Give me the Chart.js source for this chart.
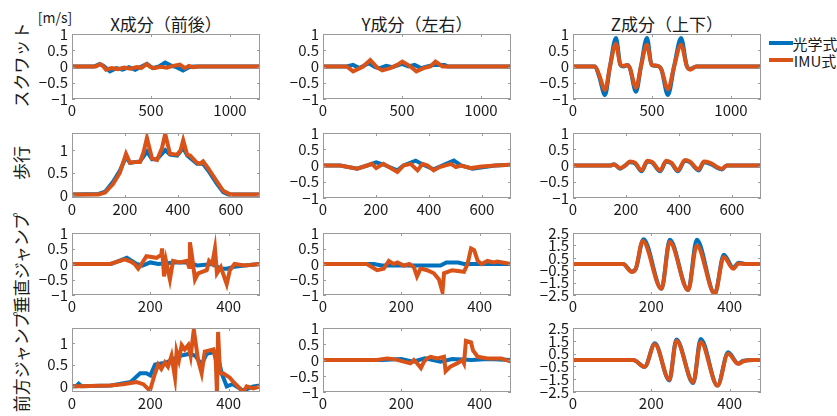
<!DOCTYPE html>
<html>
<head>
<meta charset="utf-8">
<script src="https://cdn.jsdelivr.net/npm/chart.js@4.4.0/dist/chart.umd.min.js"></script>
<style>
  body { margin: 0; background: #fff; width: 837px; height: 416px; overflow: hidden; position: relative;
         font-family: "Noto Sans CJK JP", sans-serif; color: #1a1a1a; }
  canvas { position: absolute; }
  .t { position: absolute; white-space: nowrap; transform: translate(-50%, -50%); line-height: 1; }
  .title { font-size: 17px; }
  .row { font-size: 17px; transform: translate(-50%, -50%) rotate(-90deg); }
  .leg { position: absolute; height: 4px; width: 24px; }
</style>
</head>
<body>
<div class="t" style="left:55px;top:17px;font-size:14px">[m/s]</div>
<div class="t title" style="left:166px;top:23px">X成分（前後）</div>
<div class="t title" style="left:417px;top:23px">Y成分（左右）</div>
<div class="t title" style="left:667px;top:23px">Z成分（上下）</div>
<div class="t row" style="left:20px;top:65px">スクワット</div>
<div class="t row" style="left:20px;top:163px">歩行</div>
<div class="t row" style="left:20px;top:263px">垂直ジャンプ</div>
<div class="t row" style="left:20px;top:362px">前方ジャンプ</div>
<div class="leg" style="left:769px;top:41px;background:#0072BD"></div>
<div class="t" style="left:815px;top:43px;font-size:15px">光学式</div>
<div class="leg" style="left:769px;top:58px;background:#D95319"></div>
<div class="t" style="left:815px;top:60px;font-size:15px">IMU式</div>

<script>
// [t, value] pairs, optical (blue) and IMU (orange)
const squatX_opt = [[0,0],[140,0],[175,0.08],[200,0.02],[240,-0.15],[280,-0.05],[320,-0.1],[360,-0.02],[400,-0.1],[440,0],[474,0.08],[510,-0.05],[550,0],[590,0.12],[630,0.02],[660,-0.02],[703,-0.12],[740,-0.02],[770,0],[1190,0]];
const squatX_imu = [[0,0],[150,0],[178,0.07],[195,0.02],[215,-0.1],[250,-0.05],[290,-0.08],[330,-0.03],[370,-0.07],[410,-0.02],[440,-0.04],[472,0.07],[500,-0.02],[520,-0.05],[560,-0.01],[600,-0.04],[640,0.02],[683,0.06],[715,-0.05],[740,0.02],[766,-0.02],[800,0],[1190,0]];
const squatY_opt = [[0,0],[150,0],[190,0.05],[230,-0.05],[290,0.1],[330,-0.02],[360,-0.05],[400,0.02],[440,-0.02],[500,0.08],[540,0],[580,0.05],[620,-0.05],[660,0],[700,0.05],[770,0.05],[790,0],[1190,0]];
const squatY_imu = [[0,0],[150,0],[191,-0.15],[254,0],[299,0.2],[340,-0.02],[375,-0.12],[426,-0.05],[470,0.05],[502,0.15],[553,0],[591,-0.15],[636,-0.05],[680,0],[712,0.15],[757,0],[1190,0]];
const squatZ_opt = [[0,0],[139,0],[165,-0.3],[203,-0.88],[234,0],[272,0.88],[300,0.05],[320,0],[345,0.05],[360,-0.05],[399,-0.78],[430,0],[468,0.88],[498,0.05],[520,0.02],[545,0],[560,-0.1],[601,-0.88],[640,0],[684,0.88],[720,0.02],[741,-0.08],[780,0],[1190,0]];
const squatZ_imu = [[0,0],[139,0],[165,-0.25],[203,-0.72],[234,0],[272,0.7],[300,0.05],[320,0.02],[345,0.05],[360,-0.05],[399,-0.65],[430,0],[468,0.67],[498,0.05],[520,0.03],[545,0],[560,-0.1],[601,-0.7],[640,0],[684,0.67],[720,0.02],[741,-0.1],[780,0],[1190,0]];

const walkX_opt = [[0,0.02],[100,0.03],[125,0.08],[155,0.3],[181,0.55],[204,0.85],[219,0.72],[257,0.75],[283,0.97],[302,0.8],[321,0.8],[352,1.0],[370,0.9],[397,0.88],[420,1.05],[435,0.88],[472,0.7],[495,0.7],[514,0.55],[548,0.25],[571,0.07],[590,0.02],[710,0.02]];
const walkX_imu = [[0,0.02],[100,0.02],[125,0.06],[155,0.25],[181,0.5],[204,0.92],[219,0.72],[240,0.74],[257,0.74],[270,0.95],[283,1.27],[302,0.82],[321,0.78],[340,1.05],[352,1.36],[370,0.92],[397,0.9],[410,1.0],[420,1.22],[435,0.9],[446,0.88],[472,0.72],[484,0.7],[495,0.75],[514,0.6],[548,0.3],[571,0.1],[597,0.02],[710,0.02]];
const walkY_opt = [[0,0],[65,0],[129,-0.1],[167,0],[201,0.1],[228,0.03],[281,-0.15],[304,0],[350,0.15],[376,0.03],[418,-0.12],[450,0],[494,0.15],[521,0],[565,-0.1],[610,-0.05],[650,0],[710,0.02]];
const walkY_imu = [[0,0],[65,0],[129,-0.1],[167,0],[185,0.05],[201,-0.08],[228,0.05],[281,-0.2],[304,0],[331,0.05],[357,-0.15],[376,0.05],[395,0],[418,-0.15],[440,-0.05],[483,0.05],[502,-0.05],[521,0],[559,-0.08],[600,-0.03],[650,0],[710,0.02]];
const walkZ_opt = [[0,0],[140,0],[155,0.04],[178,-0.1],[197,0],[215,0.1],[235,0.06],[259,-0.18],[281,0.12],[300,0.08],[329,-0.18],[352,0.12],[372,0.06],[396,-0.18],[423,0.15],[442,0.1],[474,-0.15],[495,0.1],[518,0.05],[562,-0.12],[581,0],[710,0]];
const walkZ_imu = [[0,0],[140,0],[155,0.03],[178,-0.08],[197,0],[215,0.12],[235,0.08],[259,-0.15],[281,0.15],[300,0.1],[329,-0.15],[352,0.15],[372,0.08],[396,-0.15],[423,0.17],[442,0.12],[474,-0.12],[495,0.12],[518,0.08],[562,-0.1],[581,0],[710,0]];

const vjumpX_opt = [[0,0],[100,0],[140,0.2],[165,0],[180,-0.05],[200,0.05],[220,0],[260,0.05],[300,0.05],[320,-0.05],[360,0],[380,-0.15],[395,-0.15],[410,-0.1],[440,-0.05],[480,0]];
const vjumpX_imu = [[0,0],[97,0],[135,0.15],[150,0.08],[160,0],[169,-0.15],[175,-0.05],[190,0.25],[216,0.2],[228,0.3],[230,0.5],[235,-0.4],[240,0.1],[250,-0.5],[258,0.1],[275,0.05],[293,0.1],[299,-0.1],[301,0.7],[306,0.3],[314,-0.5],[322,-0.3],[344,-0.2],[350,0.1],[358,0],[365,0.5],[370,-0.3],[380,-0.1],[395,-0.65],[403,-0.2],[415,0],[440,-0.05],[480,0]];
const vjumpY_opt = [[0,0],[130,0],[150,-0.05],[300,-0.05],[315,0.05],[345,0.05],[360,0],[480,0]];
const vjumpY_imu = [[0,0],[112,0],[138,-0.2],[155,-0.15],[168,0.1],[180,0],[190,0.05],[206,-0.05],[220,0],[232,-0.1],[240,-0.4],[249,-0.15],[266,-0.2],[283,-0.3],[296,-0.5],[305,-0.9],[309,-0.3],[330,-0.2],[360,-0.25],[369,0],[378,0.5],[386,0.45],[395,0.1],[405,0],[420,0.1],[435,0.05],[445,0.08],[480,0]];
const vjumpZ_opt = [[0,0],[128,0],[150,-0.6],[160,-0.4],[180,2.0],[226,-2.0],[247,1.95],[294,-2.1],[316,1.95],[362,-2.4],[385,0.75],[409,-0.3],[423,0.1],[443,0],[480,0]];
const vjumpZ_imu = [[0,0],[128,0],[150,-0.64],[160,-0.4],[178,1.85],[226,-2.0],[247,1.77],[294,-2.1],[316,1.5],[362,-2.4],[385,0.56],[409,-0.38],[423,0.05],[443,0],[480,0]];

const fjumpX_opt = [[0,0],[10,0],[17,0.06],[25,0],[100,0.02],[150,0.1],[174,0.3],[190,0.3],[200,0.25],[212,0.5],[242,0.55],[276,0.7],[301,0.75],[315,0.7],[331,0.5],[344,0.75],[370,0.8],[382,0.3],[395,0],[410,0.05],[437,-0.1],[463,0],[480,0.02]];
const fjumpX_imu = [[0,0],[20,0],[97,0.02],[131,0.05],[165,0.1],[182,0.05],[199,-0.1],[212,0.3],[220,0.5],[228,0.4],[237,0.55],[245,0.45],[254,0.7],[263,0.2],[267,0.8],[273,0.6],[280,0.95],[288,0.85],[297,0.95],[303,0.7],[311,1.3],[322,0.6],[331,0.3],[339,0.8],[361,0.85],[367,0.6],[370,-0.15],[373,1.25],[378,0.3],[386,0.3],[403,0.2],[412,0.1],[429,-0.05],[436,-0.15],[446,0],[463,-0.05],[480,0]];
const fjumpY_opt = [[0,0],[150,0],[200,0.03],[230,-0.05],[260,0.05],[300,-0.05],[330,0.03],[380,0],[420,0.03],[480,0]];
const fjumpY_imu = [[0,0],[138,0],[163,0.05],[185,0.02],[206,-0.05],[223,-0.1],[232,0],[240,-0.1],[250,-0.25],[258,-0.05],[266,0.05],[275,0.1],[292,0.05],[309,0.1],[313,-0.35],[326,-0.2],[343,-0.1],[356,0],[360,-0.1],[365,0.6],[378,0.55],[383,0.3],[395,0.1],[420,0.05],[455,0.05],[480,-0.05]];
const fjumpZ_opt = [[0,0],[154,0],[183,-0.53],[209,1.3],[246,-1.6],[264,1.6],[307,-1.8],[326,1.65],[369,-2.0],[396,0.6],[422,-0.28],[435,-0.05],[460,0],[480,0]];
const fjumpZ_imu = [[0,0],[154,0],[183,-0.53],[209,1.24],[246,-1.54],[264,1.5],[307,-1.74],[326,1.4],[369,-2.0],[396,0.48],[422,-0.3],[435,-0.1],[460,0],[480,0]];

// axis ticks
const xTicksSquat = [0, 500, 1000];
const xTicksWalk = [0, 200, 400, 600];
const xTicksJump = [0, 200, 400];
const yTicksUnit = [-1, -0.5, 0, 0.5, 1];
const yTicksPos = [0, 0.5, 1];
const yTicksWide = [-2.5, -1.5, -0.5, 0.5, 1.5, 2.5];

const colLeft = [72, 323, 573];
const rowTop = [33, 132, 232, 327];
const rowHeight = [66, 66, 63, 65];
const plotW = 188;

const panels = [
  { r: 0, c: 0, opt: squatX_opt, imu: squatX_imu, xMax: 1190, xt: xTicksSquat, yMin: -1, yMax: 1, yt: yTicksUnit },
  { r: 0, c: 1, opt: squatY_opt, imu: squatY_imu, xMax: 1190, xt: xTicksSquat, yMin: -1, yMax: 1, yt: yTicksUnit },
  { r: 0, c: 2, opt: squatZ_opt, imu: squatZ_imu, xMax: 1190, xt: xTicksSquat, yMin: -1, yMax: 1, yt: yTicksUnit, smooth: true },
  { r: 1, c: 0, opt: walkX_opt, imu: walkX_imu, xMax: 710, xt: xTicksWalk, yMin: -0.06, yMax: 1.38, yt: yTicksPos },
  { r: 1, c: 1, opt: walkY_opt, imu: walkY_imu, xMax: 710, xt: xTicksWalk, yMin: -1, yMax: 1, yt: yTicksUnit },
  { r: 1, c: 2, opt: walkZ_opt, imu: walkZ_imu, xMax: 710, xt: xTicksWalk, yMin: -1, yMax: 1, yt: yTicksUnit, smooth: true },
  { r: 2, c: 0, opt: vjumpX_opt, imu: vjumpX_imu, xMax: 480, xt: xTicksJump, yMin: -1, yMax: 1, yt: yTicksUnit },
  { r: 2, c: 1, opt: vjumpY_opt, imu: vjumpY_imu, xMax: 480, xt: xTicksJump, yMin: -1, yMax: 1, yt: yTicksUnit },
  { r: 2, c: 2, opt: vjumpZ_opt, imu: vjumpZ_imu, xMax: 480, xt: xTicksJump, yMin: -2.5, yMax: 2.5, yt: yTicksWide, smooth: true },
  { r: 3, c: 0, opt: fjumpX_opt, imu: fjumpX_imu, xMax: 480, xt: xTicksJump, yMin: -0.13, yMax: 1.34, yt: yTicksPos },
  { r: 3, c: 1, opt: fjumpY_opt, imu: fjumpY_imu, xMax: 480, xt: xTicksJump, yMin: -1, yMax: 1, yt: yTicksUnit },
  { r: 3, c: 2, opt: fjumpZ_opt, imu: fjumpZ_imu, xMax: 480, xt: xTicksJump, yMin: -2.5, yMax: 2.5, yt: yTicksWide, smooth: true },
];

// box round the plot + inward tick marks on all four sides
const boxPlugin = {
  id: 'box',
  afterDraw(chart) {
    const { ctx, chartArea: a, scales } = chart;
    ctx.save();
    ctx.strokeStyle = '#9a9a9a';
    ctx.lineWidth = 1;
    ctx.strokeRect(a.left + 0.5, a.top + 0.5, a.right - a.left - 1, a.bottom - a.top - 1);
    ctx.beginPath();
    scales.x.ticks.forEach(t => {
      const p = Math.round(scales.x.getPixelForValue(t.value)) + 0.5;
      ctx.moveTo(p, a.bottom); ctx.lineTo(p, a.bottom - 3);
      ctx.moveTo(p, a.top); ctx.lineTo(p, a.top + 3);
    });
    scales.y.ticks.forEach(t => {
      const p = Math.round(scales.y.getPixelForValue(t.value)) + 0.5;
      ctx.moveTo(a.left, p); ctx.lineTo(a.left + 3, p);
      ctx.moveTo(a.right, p); ctx.lineTo(a.right - 3, p);
    });
    ctx.stroke();
    ctx.restore();
  }
};

const fmt = v => (v < 0 ? '\u2212' + Math.abs(v) : String(v));
const toXY = arr => arr.map(p => ({ x: p[0], y: p[1] }));
const tickFont = { family: '"Noto Sans CJK JP", sans-serif', size: 15 };

panels.forEach(p => {
  const padL = 50, padT = 12, padR = 12, padB = 24;
  const h = rowHeight[p.r];
  const cv = document.createElement('canvas');
  cv.width = plotW + padL + padR;
  cv.height = h + padT + padB;
  cv.style.left = (colLeft[p.c] - padL) + 'px';
  cv.style.top = (rowTop[p.r] - padT) + 'px';
  document.body.appendChild(cv);

  const line = p.smooth ? { cubicInterpolationMode: 'monotone' } : { tension: 0 };
  new Chart(cv, {
    type: 'line',
    data: {
      datasets: [
        Object.assign({ label: 'IMU式', data: toXY(p.imu), borderColor: '#D95319', borderWidth: 4 }, line),
        Object.assign({ label: '光学式', data: toXY(p.opt), borderColor: '#0072BD', borderWidth: 4 }, line)
      ]
    },
    options: {
      responsive: false,
      animation: false,
      events: [],
      layout: { padding: { top: padT, right: padR, left: 0, bottom: 0 } },
      elements: { point: { radius: 0 } },
      plugins: { legend: { display: false }, tooltip: { enabled: false } },
      scales: {
        x: {
          type: 'linear', min: 0, max: p.xMax,
          grid: { display: false, drawTicks: false },
          border: { display: false },
          afterBuildTicks: s => { s.ticks = p.xt.map(v => ({ value: v })); },
          afterFit: s => { s.height = padB; },
          ticks: { color: '#1a1a1a', font: tickFont, padding: 2, maxRotation: 0, autoSkip: false, callback: fmt }
        },
        y: {
          type: 'linear', min: p.yMin, max: p.yMax,
          grid: { display: false, drawTicks: false },
          border: { display: false },
          afterBuildTicks: s => { s.ticks = p.yt.map(v => ({ value: v })); },
          afterFit: s => { s.width = padL; },
          ticks: { color: '#1a1a1a', font: tickFont, padding: 4, autoSkip: false, callback: fmt }
        }
      }
    },
    plugins: [boxPlugin]
  });
});
</script>
</body>
</html>
